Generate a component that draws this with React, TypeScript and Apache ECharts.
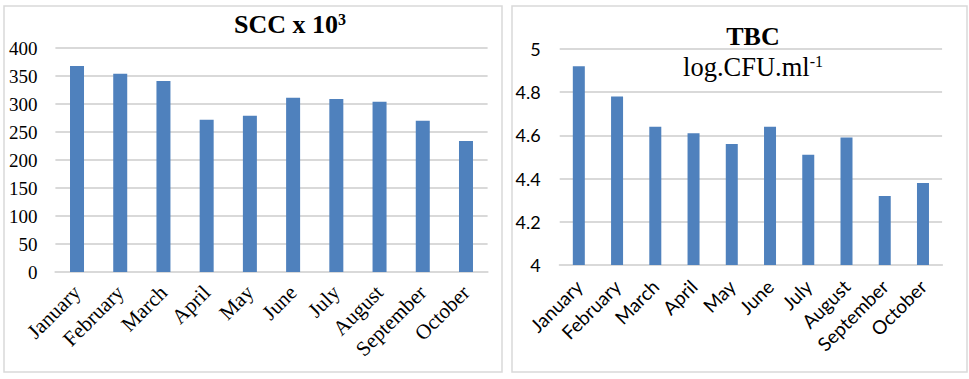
import React, { useEffect, useRef } from "react";
import * as echarts from "echarts";

const months = ["January", "February", "March", "April", "May", "June", "July", "August", "September", "October"];
const sccValues = [368, 354, 341, 272, 279, 311, 309, 304, 270, 234];
const tbcValues = [4.92, 4.78, 4.64, 4.61, 4.56, 4.64, 4.51, 4.59, 4.32, 4.38];

const BAR = "#4F81BD";
const GRID = "#D9D9D9";
const SERIF = "Liberation Serif";
const SANS = "Lato";

export default function App() {
  const ref = useRef<HTMLDivElement>(null);
  useEffect(() => {
    if (!ref.current) return;
    const chart = echarts.init(ref.current, undefined, { renderer: "svg" });
    chart.setOption({
      animation: false,
      backgroundColor: "#fff",
      graphic: [
        { type: "rect", shape: { x: 4, y: 6, width: 498, height: 366 }, style: { fill: "none", stroke: GRID, lineWidth: 1.5 }, z: -1 },
        { type: "rect", shape: { x: 512, y: 6, width: 455, height: 366 }, style: { fill: "none", stroke: GRID, lineWidth: 1.5 }, z: -1 },
        {
          type: "text",
          x: 290,
          y: 24,
          style: {
            text: "{m|SCC x 10}{s|3}",
            align: "center",
            verticalAlign: "middle",
            rich: {
              m: { fontFamily: SERIF, fontWeight: "bold", fontSize: 26, lineHeight: 26, fill: "#000" },
              s: { fontFamily: SERIF, fontWeight: "bold", fontSize: 16, lineHeight: 16, verticalAlign: "top", fill: "#000" },
            },
          },
        },
        {
          type: "text",
          x: 753,
          y: 36,
          style: { text: "TBC", align: "center", verticalAlign: "middle", fontFamily: SERIF, fontWeight: "bold", fontSize: 26, fill: "#000" },
        },
        {
          type: "text",
          x: 753,
          y: 67,
          style: {
            text: "{m|log.CFU.ml}{s|-1}",
            align: "center",
            verticalAlign: "middle",
            rich: {
              m: { fontFamily: SERIF, fontSize: 26.5, lineHeight: 27, fill: "#000" },
              s: { fontFamily: SERIF, fontSize: 16, lineHeight: 16, verticalAlign: "top", fill: "#000" },
            },
          },
        },
      ],
      grid: [
        { left: 55.4, right: 481.4, top: 48, bottom: 107 },
        { left: 559.7, right: 26.9, top: 49, bottom: 114 },
      ],
      xAxis: [
        {
          type: "category",
          gridIndex: 0,
          data: months,
          axisLine: { lineStyle: { color: GRID, width: 2 } },
          axisTick: { show: false },
          axisLabel: { interval: 0, rotate: 45, margin: 17, fontFamily: SERIF, fontSize: 21, color: "#000" },
        },
        {
          type: "category",
          gridIndex: 1,
          data: months,
          axisLine: { lineStyle: { color: GRID, width: 2 } },
          axisTick: { show: false },
          axisLabel: { interval: 0, rotate: 45, margin: 18, fontFamily: SANS, fontSize: 19, color: "#000" },
        },
      ],
      yAxis: [
        {
          type: "value",
          gridIndex: 0,
          min: 0,
          max: 400,
          interval: 50,
          axisLine: { show: false },
          axisTick: { show: false },
          splitLine: { lineStyle: { color: GRID, width: 2 } },
          axisLabel: { margin: 18, fontFamily: SERIF, fontSize: 19, color: "#000" },
        },
        {
          type: "value",
          gridIndex: 1,
          min: 4,
          max: 5,
          interval: 0.2,
          axisLine: { show: false },
          axisTick: { show: false },
          splitLine: { lineStyle: { color: GRID, width: 2 } },
          axisLabel: { margin: 19, fontFamily: SANS, fontSize: 18, color: "#000" },
        },
      ],
      series: [
        { type: "bar", xAxisIndex: 0, yAxisIndex: 0, data: sccValues, barWidth: 14, itemStyle: { color: BAR } },
        { type: "bar", xAxisIndex: 1, yAxisIndex: 1, data: tbcValues, barWidth: 12, itemStyle: { color: BAR } },
      ],
    });
    return () => chart.dispose();
  }, []);
  return <div ref={ref} style={{ position: "fixed", left: 0, top: 0, width: 969, height: 379 }} />;
}
